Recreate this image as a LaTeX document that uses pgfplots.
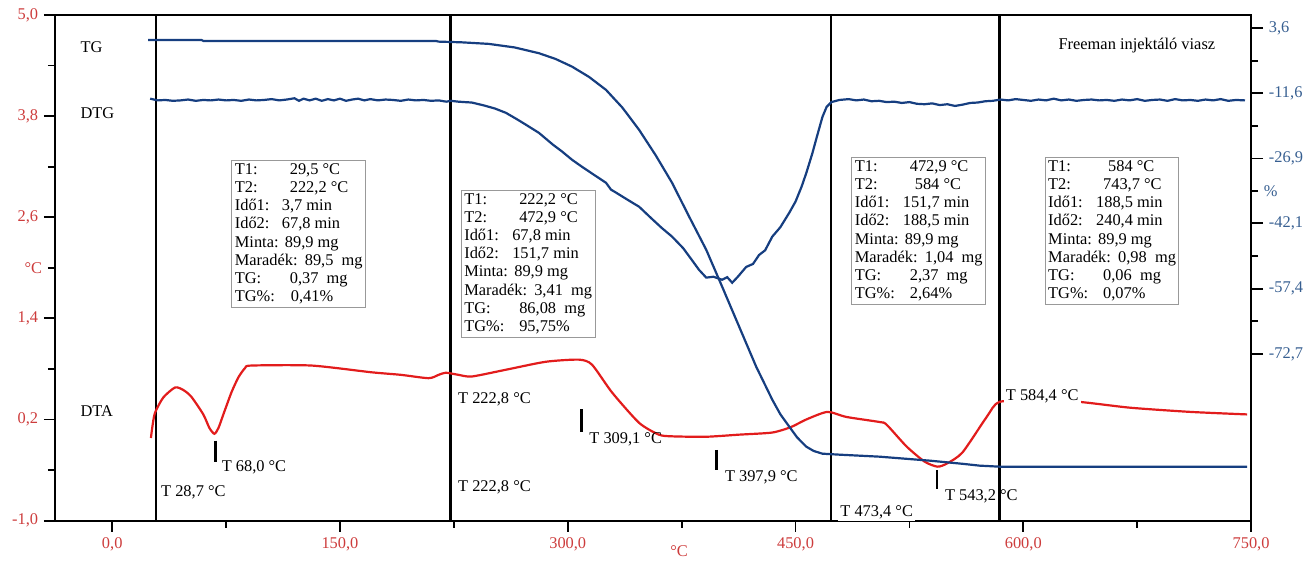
\documentclass[border=0pt]{standalone}
\usepackage{fontspec}
\setmainfont{Liberation Serif}
\usepackage{pgfplots}
\pgfplotsset{compat=1.18}
\definecolor{dtared}{RGB}{226,28,28}
\definecolor{tgblue}{RGB}{22,62,128}
\definecolor{ltick}{RGB}{205,60,60}
\definecolor{rtick}{RGB}{55,95,145}
\newcommand{\row}[3]{\makebox[#2][l]{#1}#3}
\begin{document}
\fontsize{8.2}{9.1}\selectfont
\begin{tikzpicture}
\begin{axis}[
  name=ax,
  scale only axis, width=598.5pt, height=253pt,
  xmin=-37.7, xmax=750, ymin=-1, ymax=5,
  axis line style={black, line width=0.9pt},
  clip=false,
  xtick pos=bottom, ytick pos=left, tick align=outside,
  xtick={0,150,300,450,600,750},
  xticklabels={{0,0},{150,0},{300,0},{450,0},{600,0},{750,0}},
  minor xtick={75,225,375,525,675},
  ytick={-1,0.2,1.4,2.6,3.8,5},
  yticklabels={{-1,0},{0,2},{1,4},{2,6},{3,8},{5,0}},
  minor ytick={-0.4,0.8,3.2,4.4},
  extra y ticks={2}, extra y tick labels={°C},
  extra y tick style={major tick length=3.5pt},
  major tick length=5.5pt, minor tick length=3.5pt,
  every tick/.style={black, line width=0.9pt},
  tick label style={font=\fontsize{8.2}{9.1}\selectfont, text=ltick},
]
\coordinate (SW) at (rel axis cs:0,0);
\coordinate (NE) at (rel axis cs:1,1);
% vertical separators
\addplot[black, line width=1.2pt] coordinates {(28.7,-1)(28.7,5)};
\addplot[black, line width=1.2pt] coordinates {(222.8,-1)(222.8,5)};
\addplot[black, line width=1.2pt] coordinates {(473.4,-1)(473.4,5)};
\addplot[black, line width=1.2pt] coordinates {(584.4,-1)(584.4,5)};
% DTA
\addplot[dtared, line width=1.1pt, smooth, tension=0.4] coordinates {
(25.5,-0.02)(26.5,0.12)(28.2,0.28)(33.6,0.46)(41.4,0.58)(46.8,0.55)(52.1,0.47)
(60,0.26)(64,0.10)(67.3,0.03)(70,0.10)(73.2,0.26)(78.5,0.52)(83.1,0.70)(87.5,0.81)
(91.7,0.84)(131.3,0.84)(170.8,0.76)(190,0.73)(208.4,0.69)(215,0.73)(219.7,0.755)
(228,0.73)(236.8,0.71)(259.2,0.79)(285.6,0.885)(307.4,0.91)(316,0.85)(329.2,0.52)
(347,0.16)(360,0.02)(368.7,0.00)(391.2,-0.005)(412.9,0.02)(434.7,0.045)(447,0.11)
(457.1,0.20)(471,0.29)(483.5,0.23)(505.3,0.17)(509.9,0.14)(523.1,-0.12)(535,-0.30)
(543.5,-0.36)(550,-0.32)(560,-0.19)(575.9,0.23)(584.4,0.41)(610,0.41)(635.9,0.41)
(670.2,0.34)(710,0.29)(747.4,0.26)};
% event ticks
\addplot[black, line width=1.3pt] coordinates {(68,-0.05)(68,-0.30)};
\addplot[black, line width=1.3pt] coordinates {(309.1,0.32)(309.1,0.055)};
\addplot[black, line width=1.3pt] coordinates {(397.9,-0.16)(397.9,-0.40)};
\addplot[black, line width=1.3pt] coordinates {(543.2,-0.40)(543.2,-0.63)};
% labels
\node[anchor=west, inner sep=0pt] at (axis cs:-21.1,4.62) {TG};
\node[anchor=west, inner sep=0pt] at (axis cs:-21.1,3.84) {DTG};
\node[anchor=west, inner sep=0pt] at (axis cs:-21.1,0.30) {DTA};
\node[inner sep=0pt] at (axis cs:674.8,4.64) {Freeman injektáló viasz};
\node[anchor=west, inner sep=0pt] at (axis cs:32,-0.668) {T 28,7 °C};
\node[anchor=west, inner sep=0pt] at (axis cs:71.9,-0.372) {T 68,0 °C};
\node[anchor=west, inner sep=0pt] at (axis cs:227.6,0.435) {T 222,8 °C};
\node[anchor=west, inner sep=0pt] at (axis cs:227.6,-0.609) {T 222,8 °C};
\node[anchor=west, inner sep=0pt] at (axis cs:314,-0.04) {T 309,1 °C};
\node[anchor=west, inner sep=0pt] at (axis cs:403.3,-0.49) {T 397,9 °C};
\node[anchor=west, inner sep=1pt, fill=white] at (axis cs:478.0,-0.90) {T 473,4 °C};
\node[anchor=west, inner sep=0pt] at (axis cs:548.2,-0.716) {T 543,2 °C};
\node[anchor=west, inner sep=1pt, fill=white] at (axis cs:587.0,0.48) {T 584,4 °C};
\node[anchor=north, inner sep=0pt, text=ltick, yshift=-12.5pt] at (axis cs:373.3,-1) {°C};
% info boxes
\node[draw=gray!80, line width=0.5pt, fill=white, anchor=north west, inner sep=1.5pt, align=left, minimum width=62.5pt] at (axis cs:78.5,3.28) {%
\row{T1:}{27.5pt}{29,5 °C}\\ \row{T2:}{27.5pt}{222,2 °C}\\ \row{Idő1:}{23.5pt}{3,7 min}\\ \row{Idő2:}{23.5pt}{67,8 min}\\
\row{Minta:}{25pt}{89,9 mg}\\ \row{Maradék:}{35pt}{89,5 ~mg}\\ \row{TG:}{27.5pt}{0,37 ~mg}\\ \row{TG\%:}{28pt}{0,41\%}};
\node[draw=gray!80, line width=0.5pt, fill=white, anchor=north west, inner sep=1.5pt, align=left, minimum width=64pt] at (axis cs:229.6,2.925) {%
\row{T1:}{27.5pt}{222,2 °C}\\ \row{T2:}{27.5pt}{472,9 °C}\\ \row{Idő1:}{24pt}{67,8 min}\\ \row{Idő2:}{24pt}{151,7 min}\\
\row{Minta:}{25pt}{89,9 mg}\\ \row{Maradék:}{35pt}{3,41 ~mg}\\ \row{TG:}{27.5pt}{86,08 ~mg}\\ \row{TG\%:}{27.5pt}{95,75\%}};
\node[draw=gray!80, line width=0.5pt, fill=white, anchor=north west, inner sep=1.5pt, align=left, minimum width=65.5pt] at (axis cs:486.8,3.316) {%
\row{T1:}{27.5pt}{472,9 °C}\\ \row{T2:}{30pt}{584 °C}\\ \row{Idő1:}{24pt}{151,7 min}\\ \row{Idő2:}{24pt}{188,5 min}\\
\row{Minta:}{25pt}{89,9 mg}\\ \row{Maradék:}{35pt}{1,04 ~mg}\\ \row{TG:}{27.5pt}{2,37 ~mg}\\ \row{TG\%:}{27.5pt}{2,64\%}};
\node[draw=gray!80, line width=0.5pt, fill=white, anchor=north west, inner sep=1.5pt, align=left, minimum width=63.5pt] at (axis cs:614.1,3.316) {%
\row{T1:}{30pt}{584 °C}\\ \row{T2:}{27.5pt}{743,7 °C}\\ \row{Idő1:}{24pt}{188,5 min}\\ \row{Idő2:}{24pt}{240,4 min}\\
\row{Minta:}{25pt}{89,9 mg}\\ \row{Maradék:}{35pt}{0,98 ~mg}\\ \row{TG:}{27.5pt}{0,06 ~mg}\\ \row{TG\%:}{27.5pt}{0,07\%}};
\end{axis}
\begin{axis}[
  scale only axis, width=598.5pt, height=253pt,
  xmin=-37.7, xmax=750, ymin=-111.7, ymax=6.7,
  axis x line=none, axis y line*=right,
  axis line style={black, line width=0.9pt},
  tick align=outside, ytick pos=right,
  ytick={3.6,-11.6,-26.9,-42.1,-57.4,-72.7},
  yticklabels={{3,6},{-11,6},{-26,9},{-42,1},{-57,4},{-72,7}},
  minor ytick={-4.0,-19.25,-49.75,-65.05},
  extra y ticks={-34.5}, extra y tick labels={\%},
  extra y tick style={major tick length=3.5pt},
  major tick length=6pt, minor tick length=3.5pt,
  every tick/.style={black, line width=0.9pt},
  tick label style={font=\fontsize{8.2}{9.1}\selectfont, text=rtick},
]
% TG
\addplot[tgblue, line width=1.1pt] coordinates {
(23.7,0.86)(58.7,0.86)(60.0,0.63)(213,0.63)(215,0.46)(230,0.3)(248,-0.07)(265,-0.9)
(281,-2.25)(292,-3.6)(302.8,-5.39)(314,-7.8)(325.2,-10.84)(336,-15.0)(347,-20.2)
(358,-26.2)(368.7,-32.6)(380,-40.56)(391.2,-48.28)(401.7,-56.94)(412.9,-66.3)
(424.1,-75.66)(434.7,-83.39)(440,-86.8)(445.9,-89.71)(451,-92.2)(457.1,-94.39)
(462,-95.4)(467.7,-96.03)(478.9,-96.26)(505.3,-96.73)(538.3,-97.66)(560,-98.4)
(571.2,-98.83)(584.4,-99.07)(747.4,-99.07)};
% DTG
\addplot[tgblue, line width=1.1pt] coordinates {
(25,-12.9)(30,-13.3)(35,-13.2)(40,-13.4)(45,-13.3)(50,-13.1)(55,-13.4)(60,-13.2)
(65,-13.3)(70,-13.1)(75,-13.3)(80,-13.2)(85,-13.4)(90,-13.1)(95,-13.3)(100,-13.2)
(105,-13.0)(110,-13.3)(115,-13.1)(120,-12.8)(123,-13.4)(126,-12.9)(130,-13.3)
(134,-12.9)(138,-13.4)(142,-13.0)(146,-13.3)(150,-12.9)(154,-13.4)(158,-13.1)
(162,-12.9)(166,-13.3)(170,-13.0)(175,-13.3)(180,-13.1)(185,-13.2)(190,-13.4)
(195,-13.1)(200,-13.3)(205,-13.2)(210,-13.4)(215,-13.3)(220,-13.6)(223,-13.4)
(228,-13.6)(232,-13.7)(236.8,-13.8)(245,-14.5)(252,-15.2)(259.2,-16.2)(266,-17.6)
(272,-18.9)(281,-20.9)(290,-23.6)(296,-25.2)(302.8,-27.2)(310,-29.0)(318,-30.9)
(325.2,-32.6)(328.5,-34.2)(331.8,-34.9)(340,-36.7)(347,-38.2)(355,-40.9)(362,-43.2)
(368.7,-45.2)(376,-47.9)(382,-50.8)(386.5,-53.0)(391.2,-54.8)(396,-54.6)(401.7,-55.3)
(405,-54.7)(408.3,-56.0)(412,-54.6)(417.5,-52.3)(422,-51.6)(426,-49.5)(430,-48.4)
(434.7,-45.2)(440,-43.0)(445.9,-39.6)(450,-37.0)(454,-33.5)(457.1,-30.3)(461,-25.8)
(464,-21.9)(467.7,-17.2)(470.5,-14.8)(473.6,-13.7)(478.9,-13.2)(485,-13.0)(490,-13.3)
(495,-13.1)(500,-13.5)(505,-13.4)(510,-13.7)(515,-13.6)(520,-13.9)(525,-13.7)
(530,-14.1)(535,-14.2)(540,-14.0)(545,-14.4)(550,-14.2)(555,-14.6)(560,-14.3)
(565,-13.9)(570,-13.8)(575,-13.5)(580,-13.4)(585,-13.1)(590,-13.3)(595,-13.0)
(600,-13.2)(605,-13.4)(610,-13.1)(615,-13.3)(620,-12.9)(625,-13.3)(630,-13.1)
(635,-13.4)(640,-13.2)(645,-13.1)(650,-13.3)(655,-13.2)(660,-13.4)(665,-13.1)
(670,-13.3)(675,-13.0)(680,-13.4)(685,-13.2)(690,-13.1)(695,-13.4)(700,-13.0)
(705,-13.3)(710,-13.2)(715,-13.4)(720,-13.1)(725,-13.3)(730,-13.0)(735,-13.4)
(740,-13.2)(746,-13.3)};
\end{axis}
\pgfresetboundingbox
\path[use as bounding box] ([xshift=-27.5pt,yshift=-20.5pt]SW) rectangle ([xshift=30pt,yshift=7.5pt]NE);
\end{tikzpicture}
\end{document}
